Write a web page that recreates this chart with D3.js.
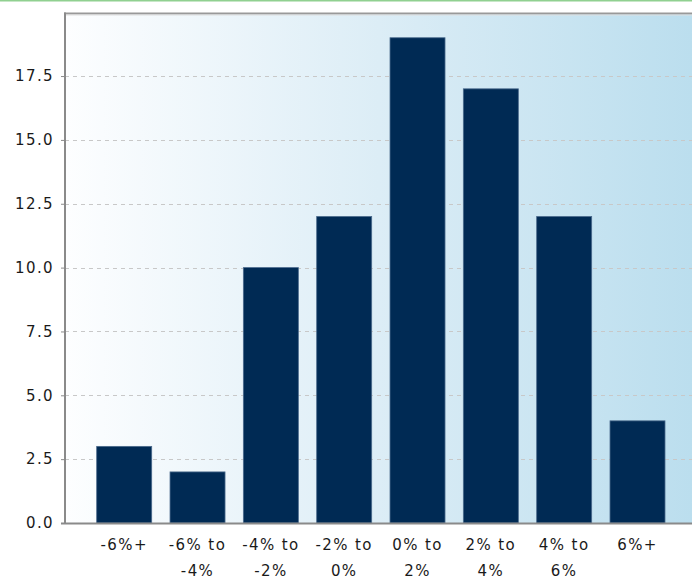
<!DOCTYPE html>
<html><head><meta charset="utf-8">
<script src="https://cdn.jsdelivr.net/npm/d3@7"></script>
<style>body{margin:0;background:#fff;}svg{display:block;}</style>
</head><body>
<svg id="c" width="692" height="581"></svg>
<script>
const categories = [["-6%+"],["-6% to","-4%"],["-4% to","-2%"],["-2% to","0%"],["0% to","2%"],["2% to","4%"],["4% to","6%"],["6%+"]];
const values = [3, 2, 10, 12, 19, 17, 12, 4];
const yTicks = [0, 2.5, 5, 7.5, 10, 12.5, 15, 17.5];

const svg = d3.select("#c");
const W = 692, H = 581;
const pL = 65, pT = 14, pB = 523;

// green line at top
svg.append("rect").attr("x",0).attr("y",0).attr("width",W).attr("height",1.5).attr("fill","#90d090");

const defs = svg.append("defs");
const g = defs.append("linearGradient").attr("id","bg").attr("x1","0").attr("x2","1").attr("y1","0").attr("y2","0");
g.append("stop").attr("offset","0").attr("stop-color","#fdfeff");
g.append("stop").attr("offset","0.5").attr("stop-color","#dcedf6");
g.append("stop").attr("offset","1").attr("stop-color","#bbdeee");

svg.append("rect").attr("x",pL).attr("y",pT).attr("width",W-pL).attr("height",pB-pT).attr("fill","url(#bg)");

const y = d3.scaleLinear().domain([0, 19.93]).range([pB, pT]);
const x = d3.scaleBand().domain(d3.range(categories.length)).range([96.7, 665]).paddingInner(0.25).paddingOuter(0);

// gridlines
svg.append("g").selectAll("line").data(yTicks.filter(d=>d>0)).join("line")
  .attr("x1",pL).attr("x2",W).attr("y1",d=>Math.round(y(d))+0.5).attr("y2",d=>Math.round(y(d))+0.5)
  .attr("stroke","#c8c8c8").attr("stroke-dasharray","4,4").attr("stroke-width",1);

// bars
svg.append("g").selectAll("rect").data(values).join("rect")
  .attr("x",(d,i)=>x(i)).attr("width",x.bandwidth())
  .attr("y",d=>y(d)).attr("height",d=>pB-y(d))
  .attr("fill","#002a54").attr("stroke","#4a6a8c").attr("stroke-width",0.8);

// frame: top
svg.append("line").attr("x1",pL-1).attr("x2",W).attr("y1",pT-0.5).attr("y2",pT-0.5).attr("stroke","#999").attr("stroke-width",2);
svg.append("line").attr("x1",pL).attr("x2",W).attr("y1",pT+1).attr("y2",pT+1).attr("stroke","#ddd").attr("stroke-width",1);

// y axis
const yAxis = d3.axisLeft(y).tickValues(yTicks).tickFormat(d3.format(".1f")).tickSize(4).tickPadding(6);
const ya = svg.append("g").attr("transform",`translate(${pL},0)`).call(yAxis);
ya.select(".domain").attr("stroke","#8a8a8a").attr("stroke-width",2).attr("d",`M0,${pT-1.5}V${pB+1}`);
ya.selectAll(".tick line").attr("stroke","#8a8a8a");
ya.selectAll(".tick text").attr("font-family","DejaVu Sans").attr("font-size",15).attr("letter-spacing","1.4px").attr("fill","#1a1a1a").attr("dx","-1");

// x axis line
svg.append("line").attr("x1",pL-4).attr("x2",W).attr("y1",pB+0.5).attr("y2",pB+0.5).attr("stroke","#8a8a8a").attr("stroke-width",2);

// x labels
const xl = svg.append("g").selectAll("text").data(categories).join("text")
  .attr("x",(d,i)=>x(i)+x.bandwidth()/2).attr("y",550)
  .attr("text-anchor","middle").attr("font-family","DejaVu Sans").attr("font-size",15).attr("letter-spacing","1.4px").attr("fill","#1a1a1a");
xl.each(function(d){
  const t = d3.select(this);
  d.forEach((s,j)=>t.append("tspan").attr("x",t.attr("x")).attr("dy", j===0?0:26).text(s));
});
</script>
</body></html>
